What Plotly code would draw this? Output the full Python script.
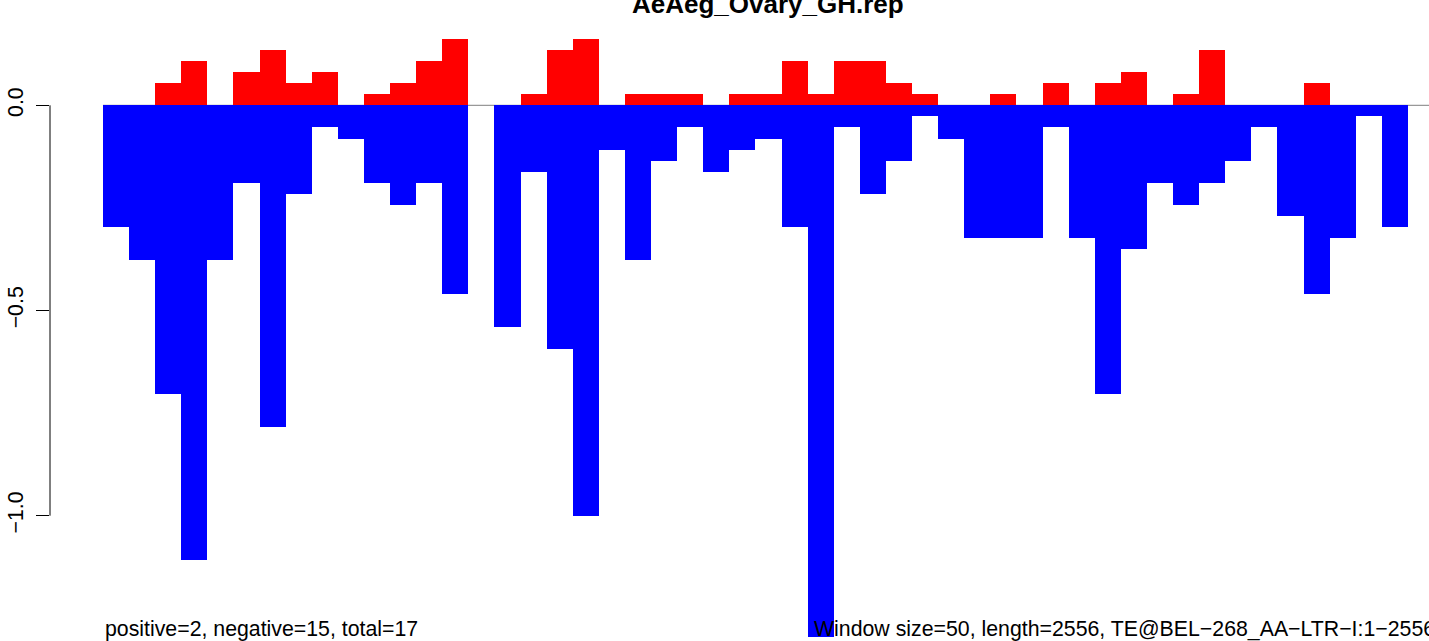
import plotly.graph_objects as go

# window layout (bp)
window_size = 50
te_length = 2556
window_starts = list(range(0, 2500, window_size))

# per-window values (50 windows)
positive = [0, 0, 0.054, 0.108, 0, 0.081, 0.135, 0.054, 0.081, 0,
            0.027, 0.054, 0.108, 0.162, 0, 0, 0.027, 0.135, 0.162, 0,
            0.027, 0.027, 0.027, 0, 0.027, 0.027, 0.108, 0.027, 0.108, 0.108,
            0.054, 0.027, 0, 0, 0.027, 0, 0.054, 0, 0.054, 0.081,
            0, 0.027, 0.135, 0, 0, 0, 0.054, 0, 0, 0]
negative = [-0.297, -0.378, -0.703, -1.108, -0.378, -0.189, -0.784, -0.216, -0.054, -0.081,
            -0.189, -0.243, -0.189, -0.459, 0, -0.541, -0.162, -0.595, -1.0, -0.108,
            -0.378, -0.135, -0.054, -0.162, -0.108, -0.081, -0.297, -1.35, -0.054, -0.216,
            -0.135, -0.027, -0.081, -0.324, -0.324, -0.324, -0.054, -0.324, -0.703, -0.351,
            -0.189, -0.243, -0.189, -0.135, -0.054, -0.270, -0.459, -0.324, -0.027, -0.297]

y_ticks = [0.0, -0.5, -1.0]
y_tick_labels = ["0.0", "\u22120.5", "\u22121.0"]

title = "AeAeg_Ovary_GH.rep"
left_note = "positive=2, negative=15, total=17"
right_note = ("Window size=50, length=2556, TE@BEL\u2212268_AA\u2212LTR\u2212I:1\u22122556")

FONT = "Liberation Sans, Arial, Helvetica, sans-serif"

fig = go.Figure()
fig.add_trace(go.Bar(x=window_starts, y=positive, width=window_size, offset=0,
                     marker=dict(color="#FF0000", line=dict(width=0)), hoverinfo="skip"))
fig.add_trace(go.Bar(x=window_starts, y=negative, width=window_size, offset=0,
                     marker=dict(color="#0000FF", line=dict(width=0)), hoverinfo="skip"))

# zero line under the bars
fig.add_shape(type="line", xref="x", yref="y", x0=0, x1=te_length, y0=0, y1=0,
              line=dict(color="#7F7F7F", width=1), layer="below")
# R-style axis line spanning only the tick range
fig.add_shape(type="line", xref="paper", yref="y", x0=0, x1=0, y0=y_ticks[0], y1=y_ticks[-1],
              line=dict(color="black", width=1))

fig.add_annotation(text="<b>" + title + "</b>", xref="paper", yref="paper", x=0.5207, y=1.0338,
                   xanchor="center", yanchor="middle", showarrow=False,
                   font=dict(family=FONT, size=26, color="black"))
fig.add_annotation(text=left_note, xref="x", yref="paper", x=0, y=0.0126,
                   xanchor="left", yanchor="middle", showarrow=False,
                   font=dict(family=FONT, size=21.3, color="black"))
fig.add_annotation(text=right_note, xref="paper", yref="paper", x=0.5524, y=0.0126,
                   xanchor="left", yanchor="middle", showarrow=False,
                   font=dict(family=FONT, size=21.3, color="black"))

fig.update_layout(
    width=1429, height=641,
    margin=dict(l=50, r=0, t=25, b=4),
    paper_bgcolor="white", plot_bgcolor="white",
    barmode="overlay", bargap=0, bargroupgap=0, showlegend=False,
    font=dict(family=FONT, color="black"),
)
fig.update_xaxes(range=[-101.5, 2540.3], visible=False)
fig.update_yaxes(range=[-1.2956, 0.1957], tickvals=y_ticks, ticktext=y_tick_labels,
                 ticks="outside", ticklen=13, tickwidth=1, tickcolor="black",
                 tickangle=-90, ticklabelstandoff=4,
                 tickfont=dict(family=FONT, size=21.3, color="black"),
                 showgrid=False, zeroline=False, showline=False)

# drop the default page margin so the figure sits at the window origin
fig.write_html("out.html", config={"displayModeBar": False},
               post_script="document.body.style.margin='0';")
